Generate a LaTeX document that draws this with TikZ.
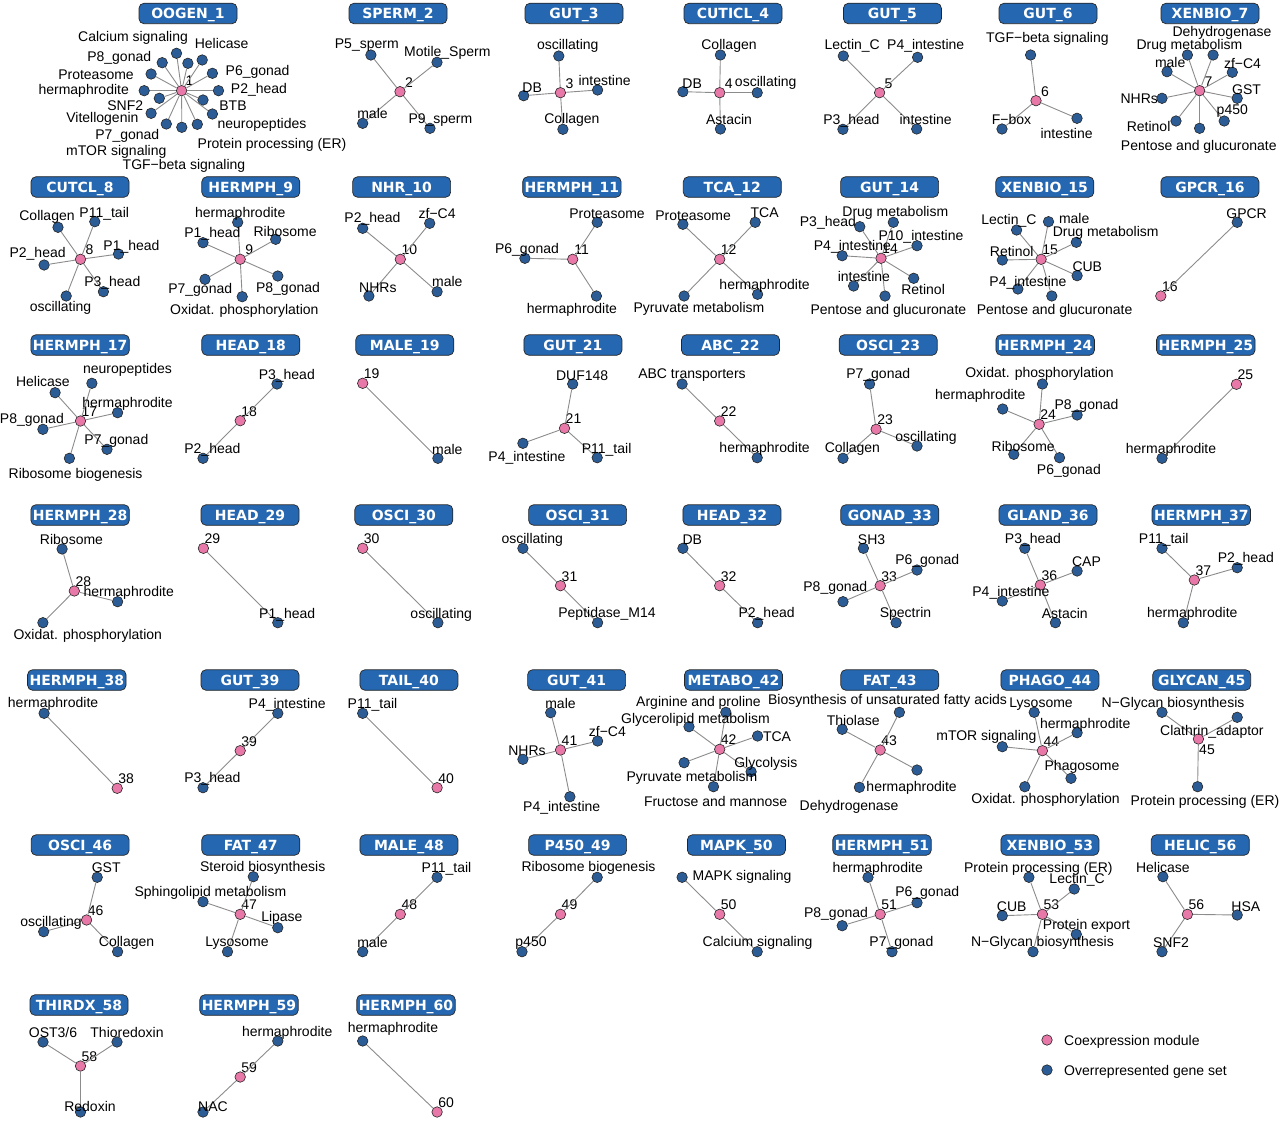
\documentclass[tikz,border=0pt]{standalone}
\usepackage{fontspec}
\setmainfont{Liberation Sans}
\newfontfamily\badgefam{DejaVu Sans}
\definecolor{hubpink}{HTML}{E878A8}
\definecolor{leafblue}{HTML}{2B5C96}
\definecolor{badgeblue}{HTML}{2567B0}
\definecolor{edgegray}{HTML}{8C8C8C}
\tikzset{
  hub/.style={circle, draw=black!85, fill=hubpink, minimum size=10.5pt, inner sep=0pt, line width=0.6pt},
  leaf/.style={circle, draw=black!85, fill=leafblue, minimum size=10.5pt, inner sep=0pt, line width=0.6pt},
  edge/.style={draw=edgegray, line width=0.9pt},
  lab/.style={font=\fontsize{14}{14}\selectfont, inner sep=0pt, text height=10pt, text depth=0pt},
  badge/.style={rounded corners=5pt, fill=badgeblue, draw=black!85, line width=0.7pt, text=white,
    font=\badgefam\bfseries\fontsize{14}{14}\selectfont, minimum width=98pt, minimum height=20.5pt,
    inner xsep=2pt, inner ysep=0pt, text height=10.5pt, text depth=0pt}
}
\newcommand\bdg[4]{\node[badge] (#1) at (#2,#3) {#4};}
\newcommand\hb[4]{\node[hub] (#1) at (#2,#3) {}; \node[lab] at (#2+9,#3-9.5) {#4};}
\newcommand\hbb[3]{\node[hub] (#1) at (#2,#3) {};}
\newcommand\lf[4]{\node[leaf] (#2) at (#3,#4) {}; \draw[edge] (#1) -- (#2);}
\newcommand\tx[3]{\node[lab] at (#1,#2) {#3};}
\begin{document}
\begin{tikzpicture}[x=1pt,y=-1pt]
\fill[white] (0,0) rectangle (1280,1121);
\useasboundingbox (0,0) rectangle (1280,1121);

% ===== Row 1 =====
% OOGEN_1
\bdg{b1}{188}{13.5}{OOGEN\_1}
\hbb{h1}{181.6}{90.7}
\node[lab] at (189.5,81) {1};
\lf{h1}{a1}{176.5}{53.3}
\lf{h1}{a2}{202.2}{60}
\lf{h1}{a3}{162.2}{62.7}
\lf{h1}{a4}{187.9}{63.3}
\lf{h1}{a5}{212.4}{73.3}
\lf{h1}{a6}{151.1}{74}
\lf{h1}{a7}{218.5}{90.7}
\lf{h1}{a8}{144.2}{90.7}
\lf{h1}{a9}{159.3}{98.3}
\lf{h1}{a10}{203}{100}
\lf{h1}{a11}{151.1}{113.3}
\lf{h1}{a12}{212.4}{114}
\lf{h1}{a13}{166.3}{124}
\lf{h1}{a14}{181.8}{127.3}
\lf{h1}{a15}{197.3}{124.3}
\tx{133}{36.7}{Calcium signaling}
\tx{221.6}{43.3}{Helicase}
\tx{119.2}{56.7}{P8\_gonad}
\tx{257.6}{70.7}{P6\_gonad}
\tx{96}{75}{Proteasome}
\tx{259}{88.3}{P2\_head}
\tx{83.7}{89.3}{hermaphrodite}
\tx{233}{106}{BTB}
\tx{125.3}{106}{SNF2}
\tx{102.4}{117.3}{Vitellogenin}
\tx{262}{124}{neuropeptides}
\tx{127.3}{134.3}{P7\_gonad}
\tx{272}{143.3}{Protein processing (ER)}
\tx{116.3}{150.7}{mTOR signaling}
\tx{184}{164}{TGF−beta signaling}

% SPERM_2
\bdg{b2}{398}{13.5}{SPERM\_2}
\hb{h2}{400}{91.7}{2}
\lf{h2}{b2a}{370.9}{55}
\lf{h2}{b2b}{437}{62.3}
\lf{h2}{b2c}{362.7}{123.3}
\lf{h2}{b2d}{430}{128.3}
\tx{366.8}{43.3}{P5\_sperm}
\tx{447.3}{51.7}{Motile\_Sperm}
\tx{372.5}{114}{male}
\tx{440.4}{118.3}{P9\_sperm}

% GUT_3
\bdg{b3}{574}{13.5}{GUT\_3}
\hb{h3}{560.4}{92.7}{3}
\lf{h3}{c3a}{558.8}{56}
\lf{h3}{c3b}{523.7}{95.7}
\lf{h3}{c3c}{597.6}{90}
\lf{h3}{c3d}{562.9}{129.3}
\tx{567.8}{45}{oscillating}
\tx{532.2}{87.3}{DB}
\tx{604.6}{81}{intestine}
\tx{571.9}{119}{Collagen}

% CUTICL_4
\bdg{b4}{733}{13.5}{CUTICL\_4}
\hb{h4}{719.7}{92.7}{4}
\lf{h4}{c4a}{720.4}{55}
\lf{h4}{c4b}{682.9}{91.7}
\lf{h4}{c4c}{757.2}{92.7}
\lf{h4}{c4d}{720.4}{129}
\tx{729}{44.3}{Collagen}
\tx{692.2}{83.3}{DB}
\tx{765.7}{81.7}{oscillating}
\tx{729}{120}{Astacin}

% GUT_5
\bdg{b5}{892.4}{13.5}{GUT\_5}
\hb{h5}{879.6}{92.7}{5}
\lf{h5}{c5a}{843.3}{56}
\lf{h5}{c5b}{917.6}{57.3}
\lf{h5}{c5c}{842.9}{129.3}
\lf{h5}{c5d}{916.7}{129}
\tx{852.2}{45}{Lectin\_C}
\tx{925.7}{45}{P4\_intestine}
\tx{851.4}{119.3}{P3\_head}
\tx{925.7}{120}{intestine}

% GUT_6
\bdg{b6}{1048}{13.5}{GUT\_6}
\hb{h6}{1036}{100.7}{6}
\lf{h6}{c6a}{1030.6}{55}
\lf{h6}{c6b}{1002}{129}
\lf{h6}{c6c}{1077}{118.3}
\tx{1047.4}{37.3}{TGF−beta signaling}
\tx{1011.5}{120}{F−box}
\tx{1066.6}{134}{intestine}

% XENBIO_7
\bdg{b7}{1210}{13.5}{XENBIO\_7}
\hb{h7}{1199.6}{90.7}{7}
\lf{h7}{c7a}{1187.4}{55}
\lf{h7}{c7b}{1213.1}{55}
\lf{h7}{c7c}{1167}{71.7}
\lf{h7}{c7d}{1232.3}{72.3}
\lf{h7}{c7e}{1162}{98.3}
\lf{h7}{c7f}{1237.2}{98.3}
\lf{h7}{c7g}{1176}{121}
\lf{h7}{c7h}{1224.2}{121}
\lf{h7}{c7i}{1199.6}{128.3}
\tx{1222}{31.7}{Dehydrogenase}
\tx{1189.4}{44.3}{Drug metabolism}
\tx{1170.2}{62.7}{male}
\tx{1242.5}{63.3}{zf−C4}
\tx{1139.2}{98.3}{NHRs}
\tx{1246.6}{89.3}{GST}
\tx{1232.3}{110}{p450}
\tx{1148.6}{126.7}{Retinol}
\tx{1198.8}{145}{Pentose and glucuronate}

% ===== Row 2 =====
% CUTCL_8
\bdg{b8}{80}{187}{CUTCL\_8}
\hb{h8}{80.5}{259.3}{8}
\lf{h8}{d8a}{58}{227.3}
\lf{h8}{d8b}{94.8}{221.7}
\lf{h8}{d8c}{118.5}{254}
\lf{h8}{d8d}{44.1}{265}
\lf{h8}{d8e}{103.4}{291.7}
\lf{h8}{d8f}{66.2}{296}
\tx{47}{215}{Collagen}
\tx{104.2}{212.7}{P11\_tail}
\tx{131.5}{245}{P1\_head}
\tx{37.6}{252.7}{P2\_head}
\tx{112.3}{281}{P3\_head}
\tx{60.5}{306.7}{oscillating}

% HERMPH_9
\bdg{b9}{250.8}{187}{HERMPH\_9}
\hb{h9}{240.2}{259.3}{9}
\lf{h9}{d9a}{237.7}{222.3}
\lf{h9}{d9b}{203}{242.7}
\lf{h9}{d9c}{275.7}{239.3}
\lf{h9}{d9d}{205}{279.3}
\lf{h9}{d9e}{277.8}{276}
\lf{h9}{d9f}{242.2}{296.7}
\tx{240.2}{212.3}{hermaphrodite}
\tx{212.4}{232.7}{P1\_head}
\tx{285.1}{231}{Ribosome}
\tx{200.2}{288.3}{P7\_gonad}
\tx{288}{287.3}{P8\_gonad}
\tx{244.3}{309.3}{Oxidat. phosphorylation}

% NHR_10
\bdg{b10}{401.6}{187}{NHR\_10}
\hb{h10}{400.3}{259.3}{10}
\lf{h10}{d10a}{362.7}{228.3}
\lf{h10}{d10b}{429.7}{223.3}
\lf{h10}{d10c}{368.9}{296}
\lf{h10}{d10d}{437.1}{291.7}
\tx{372.5}{217.7}{P2\_head}
\tx{437.1}{213.3}{zf−C4}
\tx{377.9}{287.3}{NHRs}
\tx{447.3}{281.7}{male}

% HERMPH_11
\bdg{b11}{571.9}{187}{HERMPH\_11}
\hb{h11}{572.7}{259.3}{11}
\lf{h11}{d11a}{597.2}{222.3}
\lf{h11}{d11b}{524.9}{258.3}
\lf{h11}{d11c}{596.4}{296}
\tx{607}{213}{Proteasome}
\tx{527}{248.3}{P6\_gonad}
\tx{571.9}{308.3}{hermaphrodite}

% TCA_12
\bdg{b12}{732.3}{187}{TCA\_12}
\hb{h12}{719.7}{259.3}{12}
\lf{h12}{d12a}{682.9}{224.3}
\lf{h12}{d12b}{755.2}{222.3}
\lf{h12}{d12c}{684.1}{296}
\lf{h12}{d12d}{757.6}{294.3}
\tx{693.1}{215.7}{Proteasome}
\tx{764.6}{212.7}{TCA}
\tx{764.6}{284.3}{hermaphrodite}
\tx{699}{307.5}{Pyruvate metabolism}

% GUT_14
\bdg{b14}{889.6}{187}{GUT\_14}
\hb{h14}{881}{258.3}{14}
\lf{h14}{d14a}{859.8}{226.7}
\lf{h14}{d14b}{893.3}{222.3}
\lf{h14}{d14c}{917}{245.7}
\lf{h14}{d14d}{842.2}{255.7}
\lf{h14}{d14e}{913.7}{278.3}
\lf{h14}{d14f}{853.6}{286}
\lf{h14}{d14g}{885}{296}
\tx{895.3}{211.7}{Drug metabolism}
\tx{827.9}{221.7}{P3\_head}
\tx{921}{235}{P10\_intestine}
\tx{852.4}{245}{P4\_intestine}
\tx{863.9}{276.7}{intestine}
\tx{923.1}{289}{Retinol}
\tx{888.4}{309.3}{Pentose and glucuronate}

% XENBIO_15
\bdg{b15}{1044.8}{187}{XENBIO\_15}
\hb{h15}{1041.1}{259.3}{15}
\lf{h15}{d15a}{1016.6}{230}
\lf{h15}{d15b}{1048.5}{221.7}
\lf{h15}{d15c}{1076.3}{242.3}
\lf{h15}{d15d}{1002.3}{260}
\lf{h15}{d15e}{1077.1}{275.7}
\lf{h15}{d15f}{1017.9}{289}
\lf{h15}{d15g}{1051.8}{296}
\tx{1008.9}{219.3}{Lectin\_C}
\tx{1074.2}{218.3}{male}
\tx{1105.7}{231}{Drug metabolism}
\tx{1011.7}{251}{Retinol}
\tx{1087.3}{266.7}{CUB}
\tx{1028}{281}{P4\_intestine}
\tx{1054.6}{309.3}{Pentose and glucuronate}

% GPCR_16
\bdg{b16}{1209.9}{187}{GPCR\_16}
\hb{h16}{1160.8}{296}{16}
\lf{h16}{d16a}{1237.2}{222.3}
\tx{1246.6}{213.3}{GPCR}

% ===== Row 3 =====
% HERMPH_17
\bdg{b17}{80.1}{345}{HERMPH\_17}
\hb{h17}{80.5}{421}{17}
\lf{h17}{e17a}{55.1}{392.7}
\lf{h17}{e17b}{91.9}{383.3}
\lf{h17}{e17c}{117.6}{412.7}
\lf{h17}{e17d}{42.9}{429.3}
\lf{h17}{e17e}{107}{449.3}
\lf{h17}{e17f}{69.4}{458.3}
\tx{127.5}{368.3}{neuropeptides}
\tx{42.9}{381.7}{Helicase}
\tx{127.5}{402.7}{hermaphrodite}
\tx{31.9}{418.3}{P8\_gonad}
\tx{116.4}{439.3}{P7\_gonad}
\tx{75.6}{473.3}{Ribosome biogenesis}

% HEAD_18
\bdg{b18}{250.8}{345}{HEAD\_18}
\hb{h18}{240.2}{420.7}{18}
\lf{h18}{e18a}{277}{384}
\lf{h18}{e18b}{203}{458.3}
\tx{286.8}{374.3}{P3\_head}
\tx{212.4}{448.3}{P2\_head}

% MALE_19
\bdg{b19}{404.8}{345}{MALE\_19}
\hb{h19}{362.7}{383.3}{19}
\lf{h19}{e19a}{437.9}{458.3}
\tx{447.3}{449.3}{male}

% GUT_21
\bdg{b21}{572.9}{345}{GUT\_21}
\hb{h21}{564.5}{428.3}{21}
\lf{h21}{e21a}{572.7}{384}
\lf{h21}{e21b}{522.9}{443.3}
\lf{h21}{e21c}{597.2}{457.7}
\tx{582.1}{375}{DUF148}
\tx{527}{456.7}{P4\_intestine}
\tx{606.6}{448.3}{P11\_tail}

% ABC_22
\bdg{b22}{730.5}{345}{ABC\_22}
\hb{h22}{719.7}{421}{22}
\lf{h22}{e22a}{682.1}{384}
\lf{h22}{e22b}{757.2}{457.7}
\tx{692}{373.3}{ABC transporters}
\tx{764.6}{447.3}{hermaphrodite}

% OSCI_23
\bdg{b23}{888.2}{345}{OSCI\_23}
\hb{h23}{876.1}{429.3}{23}
\lf{h23}{e23a}{869.6}{384}
\lf{h23}{e23b}{917}{446}
\lf{h23}{e23c}{843}{458.3}
\tx{878.2}{373.3}{P7\_gonad}
\tx{926}{436}{oscillating}
\tx{852.4}{447.3}{Collagen}

% HERMPH_24
\bdg{b24}{1045.2}{345}{HERMPH\_24}
\hb{h24}{1039.1}{424.3}{24}
\lf{h24}{e24a}{1042.4}{384}
\lf{h24}{e24b}{1002.7}{409}
\lf{h24}{e24c}{1077.1}{415}
\lf{h24}{e24d}{1013.8}{454.3}
\lf{h24}{e24e}{1059.5}{457.7}
\tx{1039.5}{372.7}{Oxidat. phosphorylation}
\tx{980.3}{394}{hermaphrodite}
\tx{1086.5}{404.3}{P8\_gonad}
\tx{1023.2}{446}{Ribosome}
\tx{1068.9}{469.3}{P6\_gonad}

% HERMPH_25
\bdg{b25}{1205.8}{345}{HERMPH\_25}
\hb{h25}{1236.4}{384.3}{25}
\lf{h25}{e25a}{1162}{458.3}
\tx{1171}{448.3}{hermaphrodite}

% ===== Row 4 =====
% HERMPH_28
\bdg{b28}{80.1}{515}{HERMPH\_28}
\hb{h28}{74.3}{591}{28}
\lf{h28}{f28a}{62.1}{549}
\lf{h28}{f28b}{117.6}{601.7}
\lf{h28}{f28c}{42.9}{622.7}
\tx{71.5}{539}{Ribosome}
\tx{128.7}{591.7}{hermaphrodite}
\tx{87.8}{634.3}{Oxidat. phosphorylation}

% HEAD_29
\bdg{b29}{250}{515}{HEAD\_29}
\hb{h29}{203.4}{548.3}{29}
\lf{h29}{f29a}{277.8}{622.7}
\tx{287.2}{613.3}{P1\_head}

% OSCI_30
\bdg{b30}{403.8}{515}{OSCI\_30}
\hb{h30}{362.7}{548.3}{30}
\lf{h30}{f30a}{437.9}{622.7}
\tx{441.2}{613.3}{oscillating}

% OSCI_31
\bdg{b31}{577.6}{515}{OSCI\_31}
\hb{h31}{560.5}{585.7}{31}
\lf{h31}{f31a}{522.9}{548.3}
\lf{h31}{f31b}{597.6}{622.7}
\tx{532.3}{538.3}{oscillating}
\tx{607}{612.3}{Peptidase\_M14}

% HEAD_32
\bdg{b32}{731.9}{515}{HEAD\_32}
\hb{h32}{719.7}{585.7}{32}
\lf{h32}{f32a}{682.9}{548.3}
\lf{h32}{f32b}{757.6}{622.7}
\tx{692.3}{539}{DB}
\tx{766.6}{612.3}{P2\_head}

% GONAD_33
\bdg{b33}{889.8}{515}{GONAD\_33}
\hb{h33}{880.2}{585.7}{33}
\lf{h33}{f33a}{863.4}{548.3}
\lf{h33}{f33b}{917}{570}
\lf{h33}{f33c}{843}{601.7}
\lf{h33}{f33d}{896.1}{622.7}
\tx{871.6}{539}{SH3}
\tx{927.2}{559}{P6\_gonad}
\tx{835.3}{586.7}{P8\_gonad}
\tx{905.5}{612.3}{Spectrin}

% GLAND_36
\bdg{b36}{1048}{515}{GLAND\_36}
\hb{h36}{1040.3}{585}{36}
\lf{h36}{f36a}{1024.8}{548.3}
\lf{h36}{f36b}{1077.1}{571}
\lf{h36}{f36c}{1002.3}{601}
\lf{h36}{f36d}{1055.4}{622.7}
\tx{1033}{538.3}{P3\_head}
\tx{1086.5}{561}{CAP}
\tx{1010.9}{591.7}{P4\_intestine}
\tx{1064.8}{613.3}{Astacin}

% HERMPH_37
\bdg{b37}{1201.3}{515}{HERMPH\_37}
\hb{h37}{1194.3}{580}{37}
\lf{h37}{f37a}{1162}{548.3}
\lf{h37}{f37b}{1237.2}{567.7}
\lf{h37}{f37c}{1183.3}{622.7}
\tx{1163.7}{538.3}{P11\_tail}
\tx{1245.8}{557.7}{P2\_head}
\tx{1192.3}{612.3}{hermaphrodite}

% ===== Row 5 =====
% HERMPH_38
\bdg{b38}{76.8}{680}{HERMPH\_38}
\hb{h38}{117.2}{788.3}{38}
\lf{h38}{g38a}{44.1}{713.3}
\tx{53.1}{702.7}{hermaphrodite}

% GUT_39
\bdg{b39}{250}{680}{GUT\_39}
\hb{h39}{240.2}{750.7}{39}
\lf{h39}{g39a}{277.8}{713.3}
\lf{h39}{g39b}{203}{787.7}
\tx{287.2}{703.3}{P4\_intestine}
\tx{212.4}{777.3}{P3\_head}

% TAIL_40
\bdg{b40}{408.9}{680}{TAIL\_40}
\hb{h40}{437.1}{787.7}{40}
\lf{h40}{g40a}{362.7}{713.3}
\tx{372.5}{703.3}{P11\_tail}

% GUT_41
\bdg{b41}{576.6}{680}{GUT\_41}
\hb{h41}{560.5}{750}{41}
\lf{h41}{g41a}{550.7}{712.7}
\lf{h41}{g41b}{597.6}{741}
\lf{h41}{g41c}{522.9}{759.3}
\lf{h41}{g41d}{569.9}{796.7}
\tx{560.5}{703.3}{male}
\tx{607.4}{731.7}{zf−C4}
\tx{527}{750}{NHRs}
\tx{561.7}{806.7}{P4\_intestine}

% METABO_42
\bdg{b42}{733.5}{680}{METABO\_42}
\hb{h42}{719.7}{749.3}{42}
\lf{h42}{g42a}{725.8}{712.3}
\lf{h42}{g42b}{689}{726.7}
\lf{h42}{g42c}{757.6}{736}
\lf{h42}{g42d}{684.1}{762.7}
\lf{h42}{g42e}{751.1}{771.7}
\lf{h42}{g42f}{713.5}{786.7}
\tx{698.5}{701}{Arginine and proline}
\tx{695.5}{718}{Glycerolipid metabolism}
\tx{777}{736}{TCA}
\tx{765.8}{762.7}{Glycolysis}
\tx{692}{776}{Pyruvate metabolism}
\tx{715.6}{801.7}{Fructose and mannose}

% FAT_43
\bdg{b43}{889.8}{680}{FAT\_43}
\hb{h43}{880.2}{750}{43}
\lf{h43}{g43a}{899.4}{712.3}
\lf{h43}{g43b}{842.2}{729.3}
\lf{h43}{g43c}{917}{770}
\lf{h43}{g43d}{859.4}{787.3}
\tx{887.5}{699.5}{Biosynthesis of unsaturated fatty acids}
\tx{853.2}{720.7}{Thiolase}
\tx{911.6}{786}{hermaphrodite}
\tx{849.1}{805}{Dehydrogenase}

% PHAGO_44
\bdg{b44}{1049.9}{680}{PHAGO\_44}
\hb{h44}{1042.4}{750.7}{44}
\lf{h44}{g44a}{1034.2}{712.3}
\lf{h44}{g44b}{1077.1}{732.7}
\lf{h44}{g44c}{1002.3}{746.7}
\lf{h44}{g44d}{1071}{778.3}
\lf{h44}{g44e}{1024.8}{786.7}
\tx{1041.1}{702.7}{Lysosome}
\tx{1085.2}{723.3}{hermaphrodite}
\tx{986.4}{735}{mTOR signaling}
\tx{1082}{765}{Phagosome}
\tx{1045.6}{798.3}{Oxidat. phosphorylation}

% GLYCAN_45
\bdg{b45}{1201.7}{680}{GLYCAN\_45}
\hbb{h45}{1198.4}{739}
\node[lab] at (1207,749.3) {45};
\lf{h45}{g45a}{1162}{712.3}
\lf{h45}{g45b}{1237.2}{717.3}
\lf{h45}{g45c}{1197.6}{786.7}
\tx{1173}{702.7}{N−Glycan biosynthesis}
\tx{1211.9}{730}{Clathrin\_adaptor}
\tx{1205}{800.7}{Protein processing (ER)}

% ===== Row 6 =====
% OSCI_46
\bdg{b46}{80.1}{845}{OSCI\_46}
\hb{h46}{86.6}{920}{46}
\lf{h46}{k46a}{97.2}{877.3}
\lf{h46}{k46b}{43.7}{931.7}
\lf{h46}{k46c}{117.6}{951.7}
\tx{106.2}{867.7}{GST}
\tx{51}{921}{oscillating}
\tx{126.6}{941.7}{Collagen}

% FAT_47
\bdg{b47}{250.8}{845}{FAT\_47}
\hb{h47}{240.2}{914.3}{47}
\lf{h47}{k47a}{253.3}{876.7}
\lf{h47}{k47b}{203}{901.7}
\lf{h47}{k47c}{277.8}{927.7}
\lf{h47}{k47d}{227.5}{951.7}
\tx{262.7}{866.7}{Steroid biosynthesis}
\tx{210.4}{891}{Sphingolipid metabolism}
\tx{281.9}{916.7}{Lipase}
\tx{236.9}{941.7}{Lysosome}

% MALE_48
\bdg{b48}{408.9}{845}{MALE\_48}
\hb{h48}{400.3}{914.3}{48}
\lf{h48}{k48a}{437.1}{877.3}
\lf{h48}{k48b}{362.7}{951.7}
\tx{446.5}{867.7}{P11\_tail}
\tx{372.5}{942.3}{male}

% P450_49
\bdg{b49}{577.6}{845}{P450\_49}
\hb{h49}{560.5}{914.3}{49}
\lf{h49}{k49a}{597.2}{877.3}
\lf{h49}{k49b}{522}{951.7}
\tx{588.5}{866.5}{Ribosome biogenesis}
\tx{531}{941.7}{p450}

% MAPK_50
\bdg{b50}{736.4}{845}{MAPK\_50}
\hb{h50}{719.7}{914.3}{50}
\lf{h50}{k50a}{682.1}{877.3}
\lf{h50}{k50b}{757.2}{951.7}
\tx{742.1}{875.7}{MAPK signaling}
\tx{757.6}{941.7}{Calcium signaling}

% HERMPH_51
\bdg{b51}{882}{845}{HERMPH\_51}
\hb{h51}{880.2}{914.3}{51}
\lf{h51}{k51a}{868}{877.3}
\lf{h51}{k51b}{917}{902.7}
\lf{h51}{k51c}{842.2}{925.7}
\lf{h51}{k51d}{892}{951.7}
\tx{877.7}{867.3}{hermaphrodite}
\tx{927.2}{891.7}{P6\_gonad}
\tx{836}{912.7}{P8\_gonad}
\tx{901.4}{941.7}{P7\_gonad}

% XENBIO_53
\bdg{b53}{1049.9}{845}{XENBIO\_53}
\hb{h53}{1042.4}{914.3}{53}
\lf{h53}{k53a}{1028.9}{877.3}
\lf{h53}{k53b}{1074.2}{889}
\lf{h53}{k53c}{1002.3}{915.7}
\lf{h53}{k53d}{1076.3}{934.3}
\lf{h53}{k53e}{1033}{951.7}
\tx{1038.3}{867.3}{Protein processing (ER)}
\tx{1077.1}{878.3}{Lectin\_C}
\tx{1011.7}{906}{CUB}
\tx{1086.5}{924.3}{Protein export}
\tx{1042.4}{941.7}{N−Glycan biosynthesis}

% HELIC_56
\bdg{b56}{1200.3}{845}{HELIC\_56}
\hb{h56}{1187.4}{914.3}{56}
\lf{h56}{k56a}{1162.9}{876.7}
\lf{h56}{k56b}{1237.2}{915}
\lf{h56}{k56c}{1162}{951.7}
\tx{1162.9}{867.3}{Helicase}
\tx{1245.8}{906}{HSA}
\tx{1171}{942.3}{SNF2}

% ===== Row 7 =====
% THIRDX_58
\bdg{b58}{79}{1005}{THIRDX\_58}
\hb{h58}{80.5}{1066}{58}
\lf{h58}{m58a}{43}{1042}
\lf{h58}{m58b}{117}{1042}
\lf{h58}{m58c}{80.5}{1112}
\tx{53}{1032}{OST3/6}
\tx{127}{1032}{Thioredoxin}
\tx{90}{1106}{Redoxin}

% HERMPH_59
\bdg{b59}{249}{1005}{HERMPH\_59}
\hb{h59}{240.2}{1077}{59}
\lf{h59}{m59a}{277.8}{1041}
\lf{h59}{m59b}{203}{1112}
\tx{287.2}{1031}{hermaphrodite}
\tx{213}{1106}{NAC}

% HERMPH_60
\bdg{b60}{406}{1005}{HERMPH\_60}
\hb{h60}{437.1}{1112}{60}
\lf{h60}{m60a}{362.7}{1041}
\tx{393}{1027}{hermaphrodite}

% ===== Legend =====
\node[hub] (lg1) at (1047,1040) {};
\node[leaf] (lg2) at (1047,1070) {};
\node[lab, anchor=west] at (1064,1040) {Coexpression module};
\node[lab, anchor=west] at (1064,1070) {Overrepresented gene set};
\end{tikzpicture}
\end{document}
